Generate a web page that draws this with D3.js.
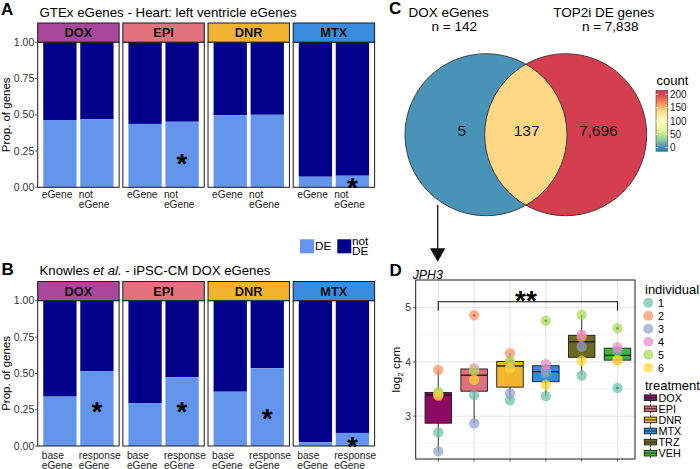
<!DOCTYPE html>
<html><head><meta charset="utf-8">
<script src="https://cdn.jsdelivr.net/npm/d3@7"></script>
<style>
html,body{margin:0;padding:0;background:#fff;}
svg{display:block;font-family:"Liberation Sans",Arial,Helvetica,sans-serif;}
</style></head>
<body>
<script>
// ---------------- DATA ----------------
const drugs = ["DOX","EPI","DNR","MTX"];
const stripColors = ["#A8479B","#E2737D","#F0B430","#3A8DDE"];
const fillKeys = ["DE","not DE"];
const fillColors = ["#6495ED","#00008B"];
const yTicksProp = [0,0.25,0.5,0.75,1];

// Panel A: GTEx eGenes
const groupsA = ["eGene","not eGene"];
const deA_eGene    = [0.464,0.437,0.497,0.073];
const deA_notEGene = [0.469,0.452,0.500,0.080];
const sigA_drug  = ["EPI","MTX"];
const sigA_group = ["not eGene","not eGene"];
const sigA_y     = [0.21,0.04];

// Panel B: Knowles et al.
const groupsB = ["base eGene","response eGene"];
const deB_base     = [0.340,0.296,0.374,0.027];
const deB_response = [0.516,0.473,0.535,0.090];
const sigB_drug  = ["DOX","EPI","DNR","MTX"];
const sigB_group = ["response eGene","response eGene","response eGene","response eGene"];
const sigB_y     = [0.28,0.28,0.235,0.04];

// Panel C: Venn
const vennSetNames = ["DOX eGenes","TOP2i DE genes"];
const vennSetSizes = ["142","7,838"];
const vennRegionLabels = ["5","137","7,696"];
const vennRegionCounts = [5,137,7696];
const countTicks = [0,50,100,150,200];
const spectralStops = ["#3288BD","#99D594","#E6F598","#FFFFBF","#FEE08B","#FC8D59","#D53E4F"];

// Panel D: JPH3 log2 cpm
const treatments = ["DOX","EPI","DNR","MTX","TRZ","VEH"];
const trtColors = ["#8C0A64","#E0707E","#F3B62C","#2F8CE0","#6B6B20","#3CB93C"];
const individuals = ["1","2","3","4","5","6"];
const indColors = ["#66C2A5","#FC8D62","#8DA0CB","#E78AC3","#A6D854","#FFD92F"];
const cpmInd1 = [2.70,3.39,3.29,3.37,3.75,3.52];
const cpmInd2 = [3.85,4.86,4.16,3.84,4.46,4.04];
const cpmInd3 = [2.35,2.87,3.42,3.80,4.28,4.20];
const cpmInd4 = [3.40,3.88,3.97,3.96,4.50,4.27];
const cpmInd5 = [3.45,3.84,4.02,4.76,4.87,4.62];
const cpmInd6 = [3.38,3.67,3.88,3.58,4.02,4.03];
const yTicksD = [3,4,5];
const yMinorD = [2.5,3.5,4.5];

// ---------------- DRAW ----------------
const W=700,H=469;
const svg = d3.select("body").append("svg").attr("width",W).attr("height",H);
svg.append("rect").attr("width",W).attr("height",H).attr("fill","#fff");

function panelLetter(t,x,y){
  svg.append("text").attr("x",x).attr("y",y).attr("font-size",17).attr("font-weight","bold").attr("fill","#000").text(t);
}

function facetPanel(cfg){
  const fx = d3.scaleBand().domain(drugs).range([37.7,374.6]).paddingInner(0.044);
  const y = d3.scaleLinear().domain([0,1]).range([cfg.bottom,cfg.top]);
  const xi = d3.scaleBand().domain(cfg.groups).range([0,fx.bandwidth()]).paddingInner(0.1).paddingOuter(0.15);
  const bw = fx.bandwidth();
  drugs.forEach((d,i)=>{
    const g = svg.append("g").attr("transform",`translate(${fx(d)},0)`);
    g.append("rect").attr("x",0).attr("y",cfg.stripTop).attr("width",bw).attr("height",cfg.top-cfg.stripTop)
      .attr("fill",stripColors[i]).attr("stroke","#1a1a1a").attr("stroke-width",1);
    g.append("text").attr("x",bw/2).attr("y",(cfg.stripTop+cfg.top)/2+4.4).attr("text-anchor","middle")
      .attr("font-size",12.8).attr("font-weight","bold").attr("fill","#111").text(d);
    g.append("rect").attr("x",0).attr("y",cfg.top).attr("width",bw).attr("height",cfg.bottom-cfg.top).attr("fill","#fff");
    cfg.groups.forEach((grp,j)=>{
      const v = cfg.values[j][i];
      g.append("rect").attr("x",xi(grp)).attr("width",xi.bandwidth()).attr("y",y(1)).attr("height",y(v)-y(1)).attr("fill",fillColors[1]);
      g.append("rect").attr("x",xi(grp)).attr("width",xi.bandwidth()).attr("y",y(v)).attr("height",y(0)-y(v)).attr("fill",fillColors[0]);
      const lines = grp.split(" ");
      const t = g.append("text").attr("x",xi(grp)-1.5).attr("y",cfg.labelY).attr("font-size",10.2).attr("fill","#222");
      lines.forEach((ln,k)=>t.append("tspan").attr("x",xi(grp)-1.5).attr("dy",k===0?0:cfg.lineH).text(ln));
    });
    g.append("rect").attr("x",0).attr("y",cfg.top).attr("width",bw).attr("height",cfg.bottom-cfg.top)
      .attr("fill","none").attr("stroke","#1a1a1a").attr("stroke-width",1);
    cfg.sigDrug.forEach((sd,k)=>{
      if(sd!==d) return;
      const fs=28;
      g.append("text").attr("x",xi(cfg.sigGroup[k])+xi.bandwidth()/2).attr("y",y(cfg.sigY[k])+0.56*fs)
        .attr("text-anchor","middle").attr("font-size",fs).attr("font-weight","bold").attr("fill","#000").text("*");
    });
  });
  // y axis
  yTicksProp.forEach(t=>{
    svg.append("line").attr("x1",35).attr("x2",37.7).attr("y1",y(t)).attr("y2",y(t)).attr("stroke","#333").attr("stroke-width",0.8);
    svg.append("text").attr("x",34.3).attr("y",y(t)+3.6).attr("text-anchor","end").attr("font-size",10.5).attr("fill","#333").text(d3.format(".2f")(t));
  });
  svg.append("text").attr("transform",`translate(9.5,${(cfg.top+cfg.bottom)/2}) rotate(-90)`).attr("text-anchor","middle")
    .attr("font-size",11.5).attr("fill","#000").text("Prop. of genes");
}

// Panel A
panelLetter("A",1,15);
svg.append("text").attr("x",39.5).attr("y",17).attr("font-size",13.3).attr("fill","#000").text("GTEx eGenes - Heart: left ventricle eGenes");
facetPanel({stripTop:23,top:42.3,bottom:187.3,groups:groupsA,values:[deA_eGene,deA_notEGene],
  sigDrug:sigA_drug,sigGroup:sigA_group,sigY:sigA_y,labelY:198,lineH:10.2});

// Legend DE / not DE
svg.append("rect").attr("x",300).attr("y",239.3).attr("width",14).attr("height",14).attr("fill",fillColors[0]);
svg.append("text").attr("x",315).attr("y",250.3).attr("font-size",11.8).attr("fill","#000").text("DE");
svg.append("rect").attr("x",337.3).attr("y",239.3).attr("width",14).attr("height",14).attr("fill",fillColors[1]);
const nd = svg.append("text").attr("x",352).attr("y",245.3).attr("font-size",11.8).attr("fill","#000");
nd.append("tspan").attr("x",352).text("not");
nd.append("tspan").attr("x",352).attr("dy",10).text("DE");

// Panel B
panelLetter("B",1.5,275);
const tb = svg.append("text").attr("x",39.5).attr("y",275).attr("font-size",13.2).attr("fill","#000");
tb.append("tspan").text("Knowles ");
tb.append("tspan").attr("font-style","italic").text("et al.");
tb.append("tspan").text(" - iPSC-CM DOX eGenes");
facetPanel({stripTop:281.5,top:300.8,bottom:446,groups:groupsB,values:[deB_base,deB_response],
  sigDrug:sigB_drug,sigGroup:sigB_group,sigY:sigB_y,labelY:459,lineH:10});

// Panel C: Venn
panelLetter("C",389,14);
const countColor = d3.scaleLinear().domain(d3.range(7).map(i=>i*200/6)).range(spectralStops).interpolate(d3.interpolateLab).clamp(true);
const cL = {x:486,y:134.7,r:81}, cR = {x:565.7,y:134.7,r:81};
const defs = svg.append("defs");
defs.append("clipPath").attr("id","clipL").append("circle").attr("cx",cL.x).attr("cy",cL.y).attr("r",cL.r);
svg.append("circle").attr("cx",cL.x).attr("cy",cL.y).attr("r",cL.r).attr("fill",countColor(vennRegionCounts[0]));
svg.append("circle").attr("cx",cR.x).attr("cy",cR.y).attr("r",cR.r).attr("fill",countColor(vennRegionCounts[2]));
svg.append("circle").attr("cx",cR.x).attr("cy",cR.y).attr("r",cR.r).attr("fill",countColor(vennRegionCounts[1])).attr("clip-path","url(#clipL)");
[cL,cR].forEach(c=>svg.append("circle").attr("cx",c.x).attr("cy",c.y).attr("r",c.r).attr("fill","none").attr("stroke","#333").attr("stroke-width",0.9));
const regionX = [461.7,526.7,598.3];
vennRegionLabels.forEach((t,i)=>svg.append("text").attr("x",regionX[i]).attr("y",135.5).attr("text-anchor","middle").attr("font-size",15.5).attr("fill","#111").text(t));
const setTitleX = [448.7,603.8], setNX = [454.3,610.3];
vennSetNames.forEach((t,i)=>{
  svg.append("text").attr("x",setTitleX[i]).attr("y",17).attr("text-anchor","middle").attr("font-size",13.5).attr("fill","#000").text(t);
  svg.append("text").attr("x",setNX[i]).attr("y",31).attr("text-anchor","middle").attr("font-size",13.5).attr("fill","#000").text("n = "+vennSetSizes[i]);
});
// colorbar
const cbY = d3.scaleLinear().domain([0,200]).range([147.7,94.3]);
const cbTop = 90.3, cbBot = 151.2, cbX = 656, cbW = 11.7;
const grad = defs.append("linearGradient").attr("id","cbGrad").attr("x1",0).attr("y1",1).attr("x2",0).attr("y2",0);
const vBot = cbY.invert(cbBot), vTop = cbY.invert(cbTop);
d3.range(0,41).forEach(k=>{
  const v = vBot + (vTop-vBot)*k/40;
  grad.append("stop").attr("offset",(k/40)).attr("stop-color",countColor(v));
});
svg.append("rect").attr("x",cbX).attr("y",cbTop).attr("width",cbW).attr("height",cbBot-cbTop).attr("fill","url(#cbGrad)").attr("stroke","#444").attr("stroke-width",0.6);
countTicks.forEach(t=>{
  svg.append("line").attr("x1",cbX).attr("x2",cbX+2.3).attr("y1",cbY(t)).attr("y2",cbY(t)).attr("stroke","#fff").attr("stroke-width",0.8);
  svg.append("line").attr("x1",cbX+cbW-2.3).attr("x2",cbX+cbW).attr("y1",cbY(t)).attr("y2",cbY(t)).attr("stroke","#fff").attr("stroke-width",0.8);
  svg.append("text").attr("x",670).attr("y",cbY(t)+3.6).attr("font-size",10).attr("fill","#222").text(t);
});
svg.append("text").attr("x",656.5).attr("y",84.5).attr("font-size",13).attr("fill","#000").text("count");

// arrow
svg.append("line").attr("x1",437.7).attr("x2",437.7).attr("y1",205).attr("y2",249).attr("stroke","#111").attr("stroke-width",1.3);
svg.append("path").attr("d","M430,248.3 L445.4,248.3 L437.7,261.7 Z").attr("fill","#111");

// Panel D
panelLetter("D",389.5,275.5);
svg.append("text").attr("x",412.7).attr("y",279).attr("font-size",12.3).attr("font-style","italic").attr("fill","#000").text("JPH3");
const pL=415.7,pR=635,pT=280,pB=459;
const xD = d3.scalePoint().domain(treatments).range([438.3,617.5]);
const yD = d3.scaleLinear().domain([2.21,5.51]).range([pB,pT]);
const gD = svg.append("g");
gD.append("rect").attr("x",pL).attr("y",pT).attr("width",pR-pL).attr("height",pB-pT).attr("fill","#fff");
yMinorD.forEach(t=>gD.append("line").attr("x1",pL).attr("x2",pR).attr("y1",yD(t)).attr("y2",yD(t)).attr("stroke","#EBEBEB").attr("stroke-width",0.6));
yTicksD.forEach(t=>gD.append("line").attr("x1",pL).attr("x2",pR).attr("y1",yD(t)).attr("y2",yD(t)).attr("stroke","#E3E3E3").attr("stroke-width",1));
treatments.forEach(t=>gD.append("line").attr("x1",xD(t)).attr("x2",xD(t)).attr("y1",pT).attr("y2",pB).attr("stroke","#E3E3E3").attr("stroke-width",1));

const cpmByInd = [cpmInd1,cpmInd2,cpmInd3,cpmInd4,cpmInd5,cpmInd6];
const boxW = 26.5;
treatments.forEach((t,i)=>{
  const vals = cpmByInd.map(a=>a[i]).sort(d3.ascending);
  const q1 = d3.quantile(vals,0.25), med = d3.quantile(vals,0.5), q3 = d3.quantile(vals,0.75);
  const iqr = q3-q1;
  const inl = vals.filter(v=>v>=q1-1.5*iqr && v<=q3+1.5*iqr);
  const wLo = d3.min(inl), wHi = d3.max(inl);
  const out = vals.filter(v=>v<q1-1.5*iqr || v>q3+1.5*iqr);
  const cx = xD(t);
  gD.append("line").attr("x1",cx).attr("x2",cx).attr("y1",yD(wHi)).attr("y2",yD(q3)).attr("stroke","#444").attr("stroke-width",1.1);
  gD.append("line").attr("x1",cx).attr("x2",cx).attr("y1",yD(q1)).attr("y2",yD(wLo)).attr("stroke","#444").attr("stroke-width",1.1);
  gD.append("rect").attr("x",cx-boxW/2).attr("width",boxW).attr("y",yD(q3)).attr("height",yD(q1)-yD(q3))
    .attr("fill",trtColors[i]).attr("stroke","#1a1a1a").attr("stroke-width",0.9);
  gD.append("line").attr("x1",cx-boxW/2).attr("x2",cx+boxW/2).attr("y1",yD(med)).attr("y2",yD(med)).attr("stroke","#1a1a1a").attr("stroke-width",1.4);
  out.forEach(o=>gD.append("circle").attr("cx",cx).attr("cy",yD(o)).attr("r",1.3).attr("fill","#111"));
});
individuals.forEach((ind,k)=>{
  treatments.forEach((t,i)=>{
    gD.append("circle").attr("cx",xD(t)).attr("cy",yD(cpmByInd[k][i])).attr("r",5.2).attr("fill",indColors[k]).attr("fill-opacity",0.7);
  });
});
gD.append("rect").attr("x",pL).attr("y",pT).attr("width",pR-pL).attr("height",pB-pT).attr("fill","none").attr("stroke","#1a1a1a").attr("stroke-width",1);
// axes D
yTicksD.forEach(t=>{
  svg.append("line").attr("x1",pL-2.7).attr("x2",pL).attr("y1",yD(t)).attr("y2",yD(t)).attr("stroke","#333").attr("stroke-width",0.8);
  svg.append("text").attr("x",pL-4.5).attr("y",yD(t)+3.6).attr("text-anchor","end").attr("font-size",10.5).attr("fill","#333").text(t);
});
treatments.forEach(t=>svg.append("line").attr("x1",xD(t)).attr("x2",xD(t)).attr("y1",pB).attr("y2",pB+2.7).attr("stroke","#333").attr("stroke-width",0.8));
const yl = svg.append("text").attr("transform",`translate(400,${(pT+pB)/2}) rotate(-90)`).attr("text-anchor","middle").attr("font-size",11.8).attr("fill","#000");
yl.append("tspan").text("log");
yl.append("tspan").attr("font-size",8).attr("dy",3).text("2");
yl.append("tspan").attr("dy",-3).text(" cpm");
// significance bracket
const bY = 301.7, bY2 = 310.7;
svg.append("path").attr("d",`M${xD("DOX")},${bY2} V${bY} H${xD("VEH")} V${bY2}`).attr("fill","none").attr("stroke","#111").attr("stroke-width",1.1);
svg.append("text").attr("x",(xD("DOX")+xD("VEH"))/2-2).attr("y",294.5+0.56*28).attr("text-anchor","middle").attr("font-size",28).attr("font-weight","bold").attr("fill","#000").text("**");

// legends D
svg.append("text").attr("x",645).attr("y",293.8).attr("font-size",13).attr("fill","#000").text("individual");
individuals.forEach((ind,k)=>{
  const yy = 302.7 + k*13;
  svg.append("circle").attr("cx",648.3).attr("cy",yy).attr("r",5).attr("fill",indColors[k]).attr("fill-opacity",0.7);
  svg.append("text").attr("x",658).attr("y",yy+3.8).attr("font-size",10.8).attr("fill","#000").text(ind);
});
svg.append("text").attr("x",645).attr("y",389.5).attr("font-size",13).attr("fill","#000").text("treatment");
treatments.forEach((t,k)=>{
  const yy = 397.7 + k*11.1;
  const kx0 = 644.3, kw = 12.4, kh = 5.6, kc = kx0+kw/2;
  svg.append("line").attr("x1",kc).attr("x2",kc).attr("y1",yy-kh/2-2).attr("y2",yy+kh/2+2).attr("stroke","#1a1a1a").attr("stroke-width",0.9);
  svg.append("rect").attr("x",kx0).attr("y",yy-kh/2).attr("width",kw).attr("height",kh).attr("fill",trtColors[k]).attr("stroke","#1a1a1a").attr("stroke-width",0.9);
  svg.append("line").attr("x1",kx0).attr("x2",kx0+kw).attr("y1",yy).attr("y2",yy).attr("stroke","#1a1a1a").attr("stroke-width",0.9);
  svg.append("text").attr("x",658.5).attr("y",yy+3.8).attr("font-size",10.8).attr("fill","#000").text(t);
});
</script>
</body></html>
